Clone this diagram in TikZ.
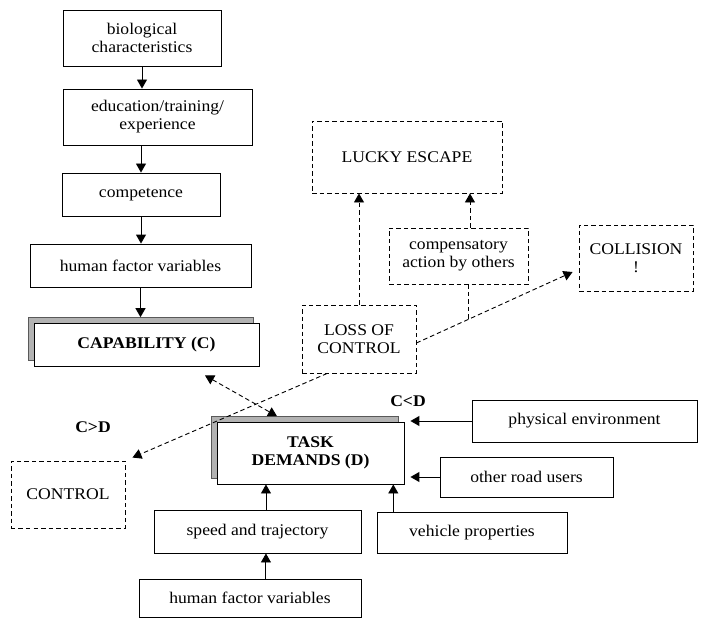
\documentclass[tikz,border=0pt]{standalone}
\usepackage{fontspec}
\setmainfont[FakeStretch=1.08]{Liberation Serif}
\usetikzlibrary{arrows.meta,calc}
\begin{document}
\begin{tikzpicture}[x=1bp,y=-1bp,
  box/.style={draw,line width=0.9bp,inner sep=0pt,align=center,fill=white,
    font=\fontsize{16.3bp}{18bp}\selectfont},
  dbox/.style={box,dash pattern=on 4.5bp off 3bp},
  shadowbox/.style={draw=gray!70!black,fill=gray!60,line width=0.6bp,inner sep=0pt},
  arr/.style={-{Triangle[width=10bp,length=9bp]},line width=0.9bp},
  darr/.style={arr,dash pattern=on 4.5bp off 3bp},
  dline/.style={line width=0.9bp,dash pattern=on 4.5bp off 3bp},
  lbl/.style={font=\fontsize{16.3bp}{18bp}\selectfont\bfseries}]
\useasboundingbox (0,0) rectangle (701,621);

% capability chain
\node[box,minimum width=158bp,minimum height=56bp] (bio) at (142,38) {biological\\characteristics};
\node[box,minimum width=189bp,minimum height=56bp] (edu) at (157.5,117) {education/training/\\experience};
\node[box,minimum width=158bp,minimum height=43bp] (comp) at (141,194.5) {competence};
\node[box,minimum width=221bp,minimum height=43bp] (hfa) at (140.5,265.5) {human factor variables};
\node[shadowbox,minimum width=225bp,minimum height=43bp] (capsh) at (141,339) {};
\node[box,minimum width=225bp,minimum height=43bp,font=\fontsize{16.3bp}{18bp}\selectfont\bfseries] (cap) at (146.5,344.5) {CAPABILITY (C)};

% outcomes
\node[dbox,minimum width=190bp,minimum height=72bp] (lucky) at (407,157) {LUCKY ESCAPE};
\node[dbox,minimum width=139bp,minimum height=56bp] (compact) at (458.5,256) {compensatory\\action by others};
\node[dbox,minimum width=114bp,minimum height=66bp] (coll) at (636,258) {COLLISION\\!};
\node[dbox,minimum width=114bp,minimum height=68bp] (loss) at (359,339) {LOSS OF\\CONTROL};
\node[dbox,minimum width=114bp,minimum height=67bp] (ctrl) at (68,494.5) {CONTROL};

% task demands and its inputs
\node[shadowbox,minimum width=187bp,minimum height=62bp] (tasksh) at (305,447.5) {};
\node[box,minimum width=187bp,minimum height=62bp,font=\fontsize{16.3bp}{18bp}\selectfont\bfseries] (task) at (310.5,453) {TASK\\DEMANDS (D)};
\node[box,minimum width=225bp,minimum height=42bp] (phys) at (584.5,421) {physical environment};
\node[box,minimum width=173bp,minimum height=40bp] (road) at (526.5,477) {other road users};
\node[box,minimum width=190bp,minimum height=41bp] (veh) at (472,532.5) {vehicle properties};
\node[box,minimum width=207bp,minimum height=43bp] (speed) at (257.5,531.5) {speed and trajectory};
\node[box,minimum width=222bp,minimum height=38bp] (hfb) at (250,598) {human factor variables};

\node[lbl] (cgd) at (93,427) {C>D};
\node[lbl] (cld) at (408,401) {C<D};

% solid arrows
\draw[arr] (bio.south) -- (bio.south |- edu.north);
\draw[arr] (comp.north |- edu.south) -- (comp.north);
\draw[arr] (comp.south) -- (comp.south |- hfa.north);
\draw[arr] (hfa.south) -- (hfa.south |- capsh.north);
\draw[arr] (phys.west) -- ([xshift=6]task.east |- phys.west);
\draw[arr] (road.west) -- ([xshift=6]task.east |- road.west);
\draw[arr] ([xshift=-79]veh.north) -- ([xshift=-79]veh.north |- task.south);
\draw[arr] ([xshift=8.5]speed.north) -- ([xshift=8.5]speed.north |- task.south);
\draw[arr] ([xshift=16]hfb.north) -- ([xshift=16]hfb.north |- speed.south);

% dashed arrows
\draw[dline,{Triangle[width=10bp,length=9bp]}-{Triangle[width=10bp,length=9bp]}]
  ([shift={(58.5,9)}]cap.south) -- ([shift={(-28,0)}]tasksh.north);
\draw[darr] (loss.north) -- (loss.north |- lucky.south);
\draw[darr] ([xshift=11.5]compact.north) -- ([xshift=11.5]compact.north |- lucky.south);
\draw[darr] ([yshift=-4]loss.east) -- coordinate[pos=0.331] (join) ([shift={(-6,14)}]coll.west);
\draw[dline] (join |- compact.south) -- (join);
\draw[darr] ([xshift=-32]loss.south) -- ([shift={(7,-3)}]ctrl.north east);
\end{tikzpicture}
\end{document}
